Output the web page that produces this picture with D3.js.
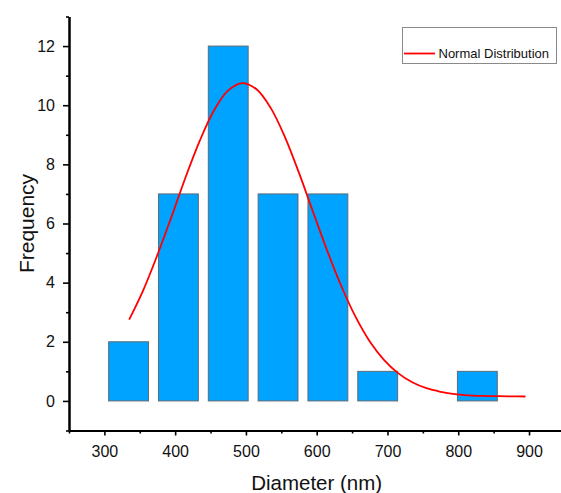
<!DOCTYPE html>
<html>
<head>
<meta charset="utf-8">
<script src="https://cdn.jsdelivr.net/npm/d3@7"></script>
<style>
  body { margin: 0; background: #fff; }
  svg { display: block; font-family: "Liberation Sans", Arial, sans-serif; }
</style>
</head>
<body>
<div id="chart"></div>
<script>
// histogram bins (centre of each bin, nm) and counts
var binCenters = [334.2, 404.6, 475.0, 545.4, 615.8, 686.2, 756.6, 827.0];
var counts = [2, 7, 12, 7, 7, 1, 0, 1];

// normal distribution curve
var curveX = [335, 355, 375, 395, 415, 435, 455, 475, 495, 515, 535, 555, 575, 595, 615, 635, 655, 675, 695, 715, 735, 755, 775, 795, 815, 835, 855, 875, 895];
var curveY = [2.75, 3.75, 4.94, 6.24, 7.58, 8.81, 9.83, 10.50, 10.75, 10.54, 9.91, 8.93, 7.71, 6.38, 5.07, 3.87, 2.84, 2.01, 1.39, 0.94, 0.63, 0.43, 0.31, 0.23, 0.19, 0.17, 0.16, 0.154, 0.15];

var xMajor = [300, 400, 500, 600, 700, 800, 900];
var xMinor = [250, 350, 450, 550, 650, 750, 850, 950];
var yMajor = [0, 2, 4, 6, 8, 10, 12];
var yMinor = [-1, 1, 3, 5, 7, 9, 11, 13];

var width = 561, height = 493;

var svg = d3.select("#chart").append("svg")
  .attr("width", width)
  .attr("height", height);

// scales
var x = d3.scaleLinear().domain([250, 950]).range([69, 564.4]);
var y = d3.scaleLinear().domain([-1, 13]).range([430.5, 16.5]);

// bars
var step = binCenters[1] - binCenters[0];
var barW = x(binCenters[0] + step * 0.4) - x(binCenters[0] - step * 0.4);

var bars = binCenters.map(function(c, i) { return { c: c, n: counts[i] }; })
  .filter(function(d) { return d.n > 0; });

svg.selectAll("rect.bar")
  .data(bars)
  .enter().append("rect")
  .attr("class", "bar")
  .attr("x", function(d) { return x(d.c) - barW / 2; })
  .attr("width", barW)
  .attr("y", function(d) { return y(d.n); })
  .attr("height", function(d) { return y(0) - y(d.n); })
  .attr("fill", "#00a3ff")
  .attr("stroke", "#5f6b73")
  .attr("stroke-width", 1);

// fitted curve
var pts = curveX.map(function(v, i) { return [v, curveY[i]]; });
var line = d3.line()
  .x(function(d) { return x(d[0]); })
  .y(function(d) { return y(d[1]); })
  .curve(d3.curveCatmullRom.alpha(0.5));

svg.append("path")
  .datum(pts)
  .attr("d", line)
  .attr("fill", "none")
  .attr("stroke", "#ff0000")
  .attr("stroke-width", 1.8);

// axes: minor ticks first, then major with labels
var xAxisMinor = d3.axisBottom(x).tickValues(xMinor).tickSize(3).tickFormat("").tickSizeOuter(0);
var xAxisMajor = d3.axisBottom(x).tickValues(xMajor).tickSize(5).tickPadding(10).tickSizeOuter(0);
var yAxisMinor = d3.axisLeft(y).tickValues(yMinor).tickSize(3).tickFormat("").tickSizeOuter(0);
var yAxisMajor = d3.axisLeft(y).tickValues(yMajor).tickSize(6).tickPadding(8).tickSizeOuter(0);

var gx = svg.append("g").attr("transform", "translate(0," + y(-1) + ")");
gx.append("g").call(xAxisMinor);
gx.append("g").call(xAxisMajor);

var gy = svg.append("g").attr("transform", "translate(" + x(250) + ",0)");
gy.append("g").call(yAxisMinor);
gy.append("g").call(yAxisMajor);

svg.selectAll(".domain").attr("stroke", "#000").attr("stroke-width", 2);
svg.selectAll(".tick line").attr("stroke", "#000").attr("stroke-width", 1.6);
svg.selectAll(".tick text")
  .attr("fill", "#111")
  .style("font-size", "16px")
  .style("font-family", "'Liberation Sans', Arial, sans-serif");

// axis titles
svg.append("text")
  .attr("x", (x(250) + x(950)) / 2)
  .attr("y", 489.5)
  .attr("text-anchor", "middle")
  .attr("fill", "#111")
  .style("font-size", "20.5px")
  .text("Diameter (nm)");

svg.append("text")
  .attr("transform", "translate(33.5," + (y(-1) + y(13)) / 2 + ") rotate(-90)")
  .attr("text-anchor", "middle")
  .attr("fill", "#111")
  .style("font-size", "21px")
  .text("Frequency");

// legend
var legend = svg.append("g");
legend.append("rect")
  .attr("x", 402.5)
  .attr("y", 27.5)
  .attr("width", 154)
  .attr("height", 36)
  .attr("fill", "#fff")
  .attr("stroke", "#8a8a8a")
  .attr("stroke-width", 1);

legend.append("line")
  .attr("x1", 404).attr("x2", 435)
  .attr("y1", 53.5).attr("y2", 53.5)
  .attr("stroke", "#ff0000")
  .attr("stroke-width", 1.8);

legend.append("text")
  .attr("x", 438.5)
  .attr("y", 53.5)
  .attr("dy", "0.35em")
  .attr("fill", "#111")
  .style("font-size", "13px")
  .text("Normal Distribution");
</script>
</body>
</html>
